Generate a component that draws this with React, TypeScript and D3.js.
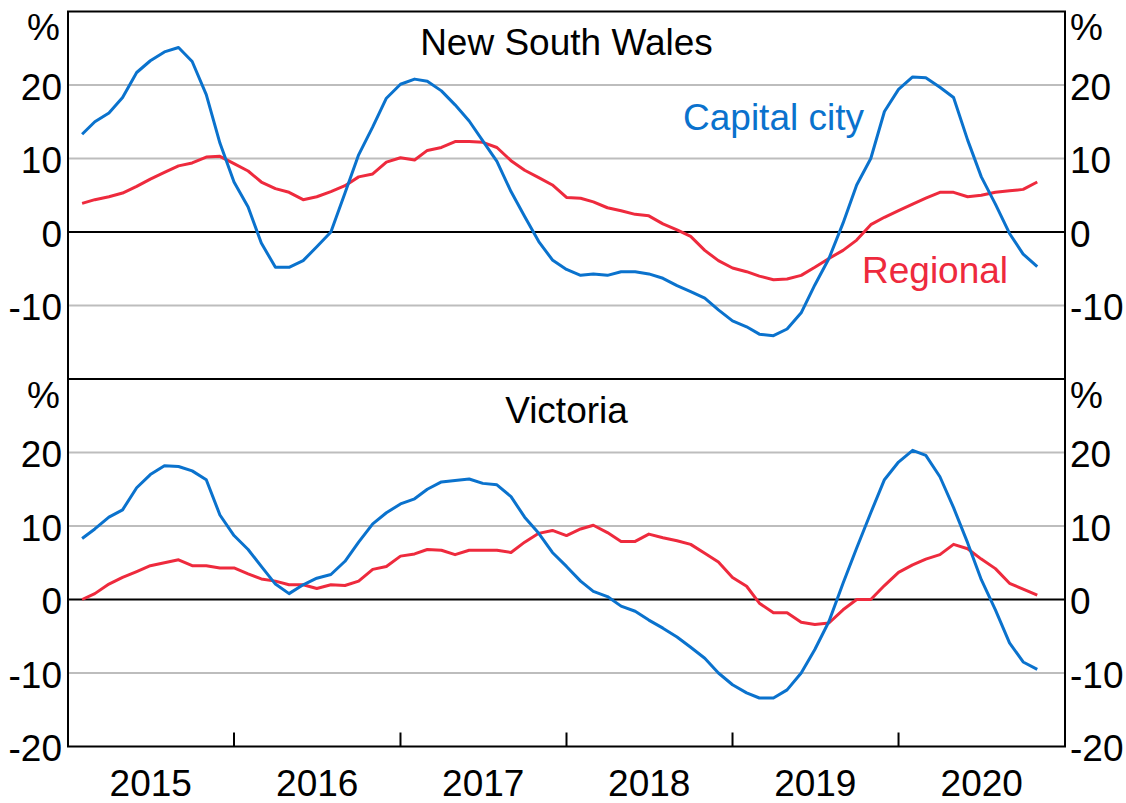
import * as d3 from 'd3';

// monthly observations, Feb 2015 to Nov 2020
const months = d3.timeMonth.range(new Date(2015, 1, 1), new Date(2020, 11, 1));

const nswCapital = [
  13.3, 15.0, 16.2, 18.3, 21.7, 23.3, 24.5, 25.1, 23.2, 18.7, 12.1, 6.8,
  3.4, -1.5, -4.8, -4.8, -3.9, -2.0, 0.0, 5.3, 10.5, 14.3, 18.2, 20.1,
  20.8, 20.5, 19.2, 17.3, 15.1, 12.4, 9.6, 5.5, 2.1, -1.3, -3.8, -5.1,
  -5.9, -5.7, -5.9, -5.4, -5.4, -5.7, -6.3, -7.3, -8.1, -9.0, -10.6, -12.1,
  -12.9, -13.9, -14.1, -13.2, -11.0, -7.2, -3.6, 1.2, 6.4, 10.0, 16.4, 19.4,
  21.1, 21.0, 19.7, 18.3, 12.5, 7.5, 3.8, -0.2, -3.0, -4.7,
];
const nswRegional = [
  3.9, 4.4, 4.8, 5.3, 6.2, 7.2, 8.1, 9.0, 9.4, 10.2, 10.3, 9.3,
  8.3, 6.8, 5.9, 5.4, 4.4, 4.8, 5.5, 6.3, 7.5, 7.9, 9.5, 10.1,
  9.8, 11.1, 11.5, 12.3, 12.3, 12.2, 11.5, 9.7, 8.4, 7.4, 6.4, 4.7,
  4.6, 4.1, 3.3, 2.9, 2.4, 2.2, 1.1, 0.3, -0.6, -2.5, -3.9, -4.9,
  -5.4, -6.0, -6.5, -6.4, -5.9, -4.8, -3.6, -2.5, -1.1, 1.0, 2.0, 2.9,
  3.8, 4.6, 5.4, 5.4, 4.8, 5.0, 5.4, 5.6, 5.8, 6.8,
];
const vicCapital = [
  8.3, 9.6, 11.2, 12.2, 15.2, 17.0, 18.2, 18.1, 17.5, 16.3, 11.5, 8.7,
  6.8, 4.5, 2.1, 0.8, 2.0, 2.9, 3.4, 5.2, 7.8, 10.3, 11.8, 13.0,
  13.7, 15.0, 16.0, 16.2, 16.4, 15.8, 15.6, 14.0, 11.2, 9.0, 6.4, 4.5,
  2.5, 1.1, 0.4, -0.9, -1.6, -2.8, -3.9, -5.1, -6.5, -8.0, -10.0, -11.6,
  -12.7, -13.4, -13.4, -12.3, -10.0, -6.8, -3.0, 2.2, 7.0, 11.8, 16.3, 18.7,
  20.3, 19.6, 16.7, 12.5, 7.7, 2.7, -1.4, -5.9, -8.5, -9.5,
];
const vicRegional = [
  0.0, 0.8, 2.1, 3.0, 3.8, 4.6, 5.0, 5.4, 4.6, 4.6, 4.3, 4.3,
  3.5, 2.8, 2.5, 2.0, 2.0, 1.5, 2.0, 1.9, 2.5, 4.1, 4.5, 5.9,
  6.2, 6.8, 6.7, 6.1, 6.7, 6.7, 6.7, 6.4, 7.8, 9.0, 9.4, 8.7,
  9.6, 10.1, 9.1, 7.9, 7.9, 8.9, 8.4, 8.0, 7.5, 6.3, 5.1, 3.0,
  1.8, -0.5, -1.8, -1.8, -3.1, -3.4, -3.2, -1.4, 0.0, 0.0, 1.9, 3.7,
  4.7, 5.5, 6.1, 7.5, 6.9, 5.5, 4.2, 2.2, 1.4, 0.6,
];

const years = [2015, 2016, 2017, 2018, 2019, 2020];
const topTicks = [20, 10, 0, -10];
const bottomTicks = [20, 10, 0, -10, -20];

const BLUE = '#0a72cd';
const RED = '#ee2a3d';
const FONT = '"Liberation Sans", Arial, sans-serif';

const W = 1126;
const H = 803;
const left = 68;
const right = 1065;
const top = 11.5;
const mid = 379;
const bottom = 746.5;

const x = d3.scaleTime()
  .domain([new Date(2015, 0, 1), new Date(2021, 0, 1)])
  .range([left, right]);

const Panel = ({ y0, y1, title, capital, regional, ticks, labels }) => {
  const y = d3.scaleLinear().domain([-20, 30]).range([y1, y0]);
  const line = d3.line<number>()
    .x((_, i) => x(months[i]))
    .y(d => y(d));

  return (
    <g>
      {[20, 10, -10].map(v => (
        <line key={v} x1={left} x2={right} y1={y(v)} y2={y(v)} stroke="#bdbdbd" strokeWidth={2} />
      ))}
      <line x1={left} x2={right} y1={y(0)} y2={y(0)} stroke="#000" strokeWidth={2} />
      <path d={line(regional)} fill="none" stroke={RED} strokeWidth={3} strokeLinejoin="round" />
      <path d={line(capital)} fill="none" stroke={BLUE} strokeWidth={3} strokeLinejoin="round" />
      {ticks.map(v => (
        <g key={v}>
          <text x={62} y={y(v) + 14.5} textAnchor="end">{v}</text>
          <text x={1070} y={y(v) + 14.5}>{v}</text>
        </g>
      ))}
      <text x={60} y={y0 + 28.5} textAnchor="end">%</text>
      <text x={1070} y={y0 + 28.5}>%</text>
      <text x={(left + right) / 2} y={y0 + 43.5} textAnchor="middle">{title}</text>
      {labels}
    </g>
  );
};

export default function App() {
  return (
    <svg
      width={W}
      height={H}
      style={{ position: 'absolute', left: 0, top: 0, background: '#fff' }}
      fontFamily={FONT}
      fontSize={37}
      fill="#000"
    >
      <Panel
        y0={top}
        y1={mid}
        title="New South Wales"
        capital={nswCapital}
        regional={nswRegional}
        ticks={topTicks}
        labels={
          <g>
            <text x={683} y={130} fill={BLUE}>Capital city</text>
            <text x={862} y={283} fill={RED}>Regional</text>
          </g>
        }
      />
      <Panel
        y0={mid}
        y1={bottom}
        title="Victoria"
        capital={vicCapital}
        regional={vicRegional}
        ticks={bottomTicks}
        labels={null}
      />
      {years.slice(1).map(yr => (
        <line key={yr} x1={x(new Date(yr, 0, 1))} x2={x(new Date(yr, 0, 1))} y1={bottom} y2={bottom - 14} stroke="#000" strokeWidth={2} />
      ))}
      {years.map(yr => (
        <text key={yr} x={x(new Date(yr, 6, 2))} y={796} textAnchor="middle">{yr}</text>
      ))}
      <rect x={left} y={top} width={right - left} height={bottom - top} fill="none" stroke="#000" strokeWidth={2} />
      <line x1={left} x2={right} y1={mid} y2={mid} stroke="#000" strokeWidth={2} />
    </svg>
  );
}
